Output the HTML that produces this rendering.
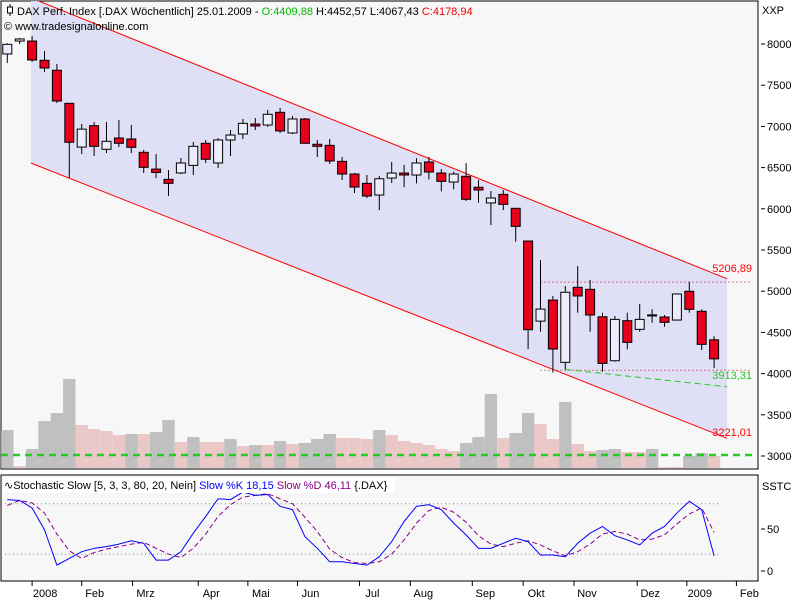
<!DOCTYPE html>
<html><head><meta charset="utf-8"><style>
body{margin:0;background:#fff;}
svg{display:block;font-family:"Liberation Sans",sans-serif;font-size:11px;}
</style></head><body>
<svg id="c" width="800" height="600" viewBox="0 0 800 600"></svg>
<script>
const opens =[7879,8036,8036,7802,7681,7280,6749,7009,6722,6859,6847,6685,6482,6357,6435,6527,6795,6556,6835,6908,7029,7017,7171,6920,7090,6783,6770,6576,6422,6309,6167,6373,6434,6410,6568,6434,6325,6394,6261,6071,6175,6006,5609,4637,4892,4137,5047,5023,4690,4156,4642,4537,4703,4687,4650,4999,4756,4410];
const highs =[8010,8073,8097,7915,7757,7284,7030,7053,7053,7078,7017,6714,6665,6471,6617,6811,6835,6859,6956,7090,7102,7199,7224,7126,7102,6835,6847,6629,6434,6410,6398,6568,6532,6613,6629,6482,6450,6556,6350,6216,6228,6006,5609,5379,4942,5063,5306,5136,4739,4699,4739,4845,4780,4711,4974,5116,4780,4453];
const lows  =[7770,8000,7782,7660,7284,6374,6665,6641,6677,6750,6677,6434,6374,6155,6422,6410,6556,6495,6641,6847,6956,6993,6920,6908,6798,6629,6544,6350,6191,6131,5985,6313,6261,6309,6357,6212,6236,6095,6075,5803,5985,5601,4298,4508,4011,4052,4739,4508,4023,4145,4295,4508,4618,4569,4642,4739,4286,4067];
const closes=[7996,8061,7806,7709,7308,6807,6967,6758,6819,6795,6746,6503,6441,6309,6556,6758,6601,6835,6895,7037,7005,7147,6945,7090,6795,6758,6580,6422,6264,6155,6365,6434,6410,6556,6446,6333,6422,6115,6228,6131,6054,5787,4533,4783,4298,4987,4942,4711,4124,4658,4379,4658,4712,4622,4966,4780,4355,4179];
const volumes=[38,2,19,47,55,89,43,39,37,33,34,34,36,48,26,31,26,26,29,22,23,23,27,24,25,29,34,30,30,29,38,33,27,25,23,19,17,25,31,74,30,35,55,44,29,66,24,17,18,19,16,16,19,1,1,12,15,12];
const stochK=[85,84,75,49,7,15,23,27,29,32,36,33,13,13,23,45,65,86,85,94,90,91,77,73,41,27,11,11,9,7,17,35,59,77,79,73,57,43,27,27,33,39,35,19,19,17,33,45,53,42,37,31,45,53,69,83,73,18];
const stochD=[78,84,81,69,44,24,15,22,26,29,32,34,27,20,16,27,44,65,79,88,90,92,86,80,64,47,26,16,10,9,11,20,37,57,72,76,70,58,42,32,29,33,36,31,24,18,23,32,44,47,44,37,38,43,56,68,75,46];
const priceTicks=[8000,7500,7000,6500,6000,5500,5000,4500,4000,3500,3000];
const stochTicks=[50,0];
const monthLabels=["2008","Feb","Mrz","Apr","Mai","Jun","Jul","Aug","Sep","Okt","Nov","Dez","2009","Feb"];
const monthWeeks=[2.0,6.0,10.1,15.4,19.4,23.4,28.4,32.5,37.5,41.6,45.7,50.8,54.8,58.8];
const chanWeeks=[1.9,58.05];
const chanUpper=[8560,5150];
const chanLower=[6556,3215];
const resLevel=5206.89, supLevel=4040, greenTrend=[4050,3913.31];

const svg=document.getElementById('c');
const NS='http://www.w3.org/2000/svg';
function el(tag,attrs,parent){const e=document.createElementNS(NS,tag);for(const k in attrs)e.setAttribute(k,attrs[k]);(parent||svg).appendChild(e);return e;}
const xw=i=>7.3+i*12.4;
const yp=p=>456-(p-3000)*0.0824;
const yv=v=>468-v;
const ys=v=>571-v*0.84;

let e=el('rect',{x:1,y:1,width:757,height:468,fill:'#f7f7f7',stroke:'#000','stroke-width':1});

e=el('rect',{x:1,y:475,width:757,height:106,fill:'#f7f7f7',stroke:'#000','stroke-width':1});


const clip=el('clipPath',{id:'pc'});el('rect',{x:1,y:1,width:757,height:468},clip);

// volume bars
const vg=el('g',{});
volumes.forEach((v,i)=>{const up=i===0||v>volumes[i-1];
 const r=el('rect',{x:xw(i)-6.2,y:yv(v),width:12.4,height:v,fill:up?'#c0c0c0':'#ebc8c8'},vg);
 });

// channel
const x0=xw(chanWeeks[0]),x1=xw(chanWeeks[1]);
e=el('polygon',{points:`${x0},${yp(chanUpper[0])} ${x1},${yp(chanUpper[1])} ${x1},${yp(chanLower[1])} ${x0},${yp(chanLower[0])}`,fill:'#dcdcf4','fill-opacity':0.9,'clip-path':'url(#pc)'});

e=el('line',{x1:x0,y1:yp(chanUpper[0]),x2:x1,y2:yp(chanUpper[1]),stroke:'#f00','stroke-width':1,'clip-path':'url(#pc)'});

e=el('line',{x1:x0,y1:yp(chanLower[0]),x2:x1,y2:yp(chanLower[1]),stroke:'#f00','stroke-width':1});

e=el('line',{x1:xw(43),y1:yp(resLevel)+8,x2:752,y2:yp(resLevel)+8,stroke:'#d00','stroke-dasharray':'1,3'});

e=el('line',{x1:xw(43),y1:yp(supLevel),x2:752,y2:yp(supLevel),stroke:'#d00','stroke-dasharray':'1,3'});

e=el('line',{x1:xw(45),y1:yp(greenTrend[0]),x2:x1,y2:yp(greenTrend[1])+6,stroke:'#2c2','stroke-dasharray':'6,4'});

e=el('line',{x1:1,y1:455,x2:757,y2:455,stroke:'#2c2','stroke-width':2.5,'stroke-dasharray':'7,5'});

[[resLevel,'5206,89','#f00',272],[greenTrend[1],'3913,31','#2c2',379],[chanLower[1],'3221,01','#f00',436]].forEach(a=>{
 const t=el('text',{x:752,y:a[3],fill:a[2],'text-anchor':'end'});t.textContent=a[1];
 });

// candles
const cg=el('g',{});
opens.forEach((o,i)=>{const c=closes[i],x=xw(i);const g=el('g',{},cg);
 
 el('line',{x1:x,y1:yp(highs[i]),x2:x,y2:yp(lows[i]),stroke:'#000'},g);
 const t=yp(Math.max(o,c)),b=yp(Math.min(o,c));
 el('rect',{x:x-4.5,y:t,width:9,height:Math.max(1,b-t),fill:c>=o?'#ececfa':'#e8001c',stroke:'#000','stroke-width':1},g);});

// price axis
priceTicks.forEach(p=>{const y=yp(p);el('line',{x1:761,y1:y,x2:765,y2:y,stroke:'#000'});
 const t=el('text',{x:767,y:y+4});t.textContent=p;});
e=el('text',{x:762,y:14});e.textContent='XXP';

// header
e=el('text',{x:17,y:15});
e.innerHTML='DAX Perf. Index [.DAX  Wöchentlich] 25.01.2009 - <tspan fill="#0b0">O:4409,88</tspan> H:4452,57 L:4067,43 <tspan fill="#e00">C:4178,94</tspan>';
el('line',{x1:10,y1:4,x2:10,y2:16,stroke:'#000'});el('rect',{x:7.5,y:7,width:5,height:6,fill:'#fff',stroke:'#000'});
e=el('text',{x:4,y:30});e.textContent='© www.tradesignalonline.com';

// stochastic
[80,20].forEach(v=>{e=el('line',{x1:5,y1:ys(v),x2:718,y2:ys(v),stroke:'#888','stroke-dasharray':'1,3'});
 });
e=el('polyline',{points:stochD.map((v,i)=>xw(i)+','+ys(v)).join(' '),fill:'none',stroke:'#808','stroke-dasharray':'5,3'});

e=el('polyline',{points:stochK.map((v,i)=>xw(i)+','+ys(v)).join(' '),fill:'none',stroke:'#00f'});

stochTicks.forEach(v=>{const y=ys(v);el('line',{x1:761,y1:y,x2:765,y2:y,stroke:'#000'});
 const t=el('text',{x:767,y:y+4});t.textContent=v;});
e=el('text',{x:762,y:490});e.textContent='SSTC';
el('rect',{x:3,y:478,width:392,height:15,fill:'#fff'});
e=el('text',{x:4,y:489});
e.innerHTML='∿Stochastic Slow [5, 3, 3, 80, 20, Nein] <tspan fill="#00f">Slow %K 18,15</tspan> <tspan fill="#808">Slow %D 46,11</tspan> {.DAX}';

// x axis
monthLabels.forEach((m,i)=>{const x=xw(monthWeeks[i]);el('line',{x1:x,y1:581,x2:x,y2:586,stroke:'#000'});
 const t=el('text',{x:x+13,y:597,'text-anchor':'middle'});t.textContent=m;});
</script>
</body></html>
